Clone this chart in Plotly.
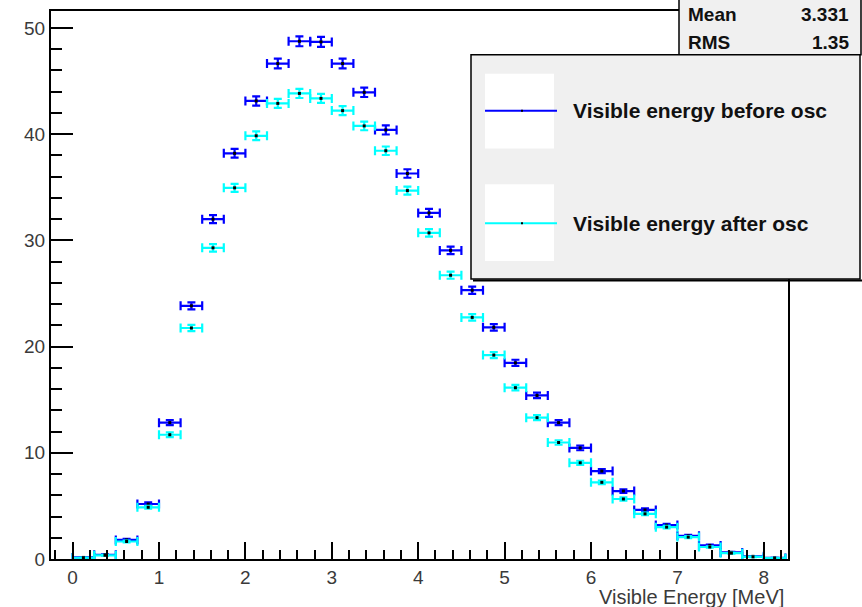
import plotly.graph_objects as go

# Histogram bins (MeV) and contents
bin_centers = [0.125, 0.375, 0.625, 0.875, 1.125, 1.375, 1.625, 1.875, 2.125, 2.375,
               2.625, 2.875, 3.125, 3.375, 3.625, 3.875, 4.125, 4.375, 4.625, 4.875,
               5.125, 5.375, 5.625, 5.875, 6.125, 6.375, 6.625, 6.875, 7.125, 7.375,
               7.625, 7.875, 8.125]
half_width = [0.125] * len(bin_centers)

before_osc = [0.15, 0.40, 1.80, 5.18, 12.84, 23.84, 32.00, 38.20, 43.13, 46.65,
              48.75, 48.69, 46.65, 43.94, 40.40, 36.30, 32.59, 29.06, 25.31, 21.81,
              18.47, 15.40, 12.84, 10.46, 8.28, 6.40, 4.62, 3.19, 2.18, 1.28,
              0.62, 0.25, 0.10]
before_err = [0.03, 0.04, 0.09, 0.15, 0.24, 0.33, 0.38, 0.41, 0.44, 0.46,
              0.47, 0.47, 0.46, 0.44, 0.43, 0.40, 0.38, 0.36, 0.34, 0.31,
              0.29, 0.26, 0.24, 0.22, 0.19, 0.17, 0.14, 0.12, 0.10, 0.08,
              0.05, 0.03, 0.02]

after_osc = [0.12, 0.35, 1.65, 4.87, 11.70, 21.75, 29.30, 34.95, 39.85, 42.90,
             43.84, 43.37, 42.22, 40.78, 38.44, 34.69, 30.71, 26.72, 22.75, 19.20,
             16.13, 13.31, 10.97, 9.06, 7.22, 5.65, 4.25, 3.00, 2.06, 1.13,
             0.55, 0.20, 0.08]
after_err = [0.02, 0.04, 0.08, 0.14, 0.22, 0.30, 0.35, 0.38, 0.41, 0.42,
             0.43, 0.43, 0.42, 0.41, 0.40, 0.38, 0.36, 0.33, 0.31, 0.28,
             0.26, 0.24, 0.21, 0.19, 0.17, 0.15, 0.13, 0.11, 0.09, 0.07,
             0.05, 0.03, 0.02]

series_names = ["Visible energy before osc", "Visible energy after osc"]
series_colors = ["#0000ff", "#00ffff"]
stats = [("Mean", "3.331"), ("RMS", "1.35")]
x_title = "Visible Energy [MeV]"

W, H = 862, 607
L, R, T, B = 51, 74, 9, 48
PW, PH = W - L - R, H - T - B
FONT = "Liberation Sans, Arial, Helvetica, sans-serif"


def px(x):
    return (x - L) / PW


def py(y):
    return (T + PH - y) / PH


fig = go.Figure()
for vals, errs, color, name in [(before_osc, before_err, series_colors[0], series_names[0]),
                                (after_osc, after_err, series_colors[1], series_names[1])]:
    fig.add_trace(go.Scatter(
        x=bin_centers, y=vals, mode="markers", name=name, showlegend=False,
        marker=dict(color="black", size=3, symbol="square"),
        error_x=dict(type="data", array=half_width, color=color, thickness=2.2, width=4.5),
        error_y=dict(type="data", array=errs, color=color, thickness=2.2, width=4),
    ))

axis_common = dict(showline=True, mirror=True, linecolor="black", linewidth=2,
                   showgrid=False, zeroline=False, ticks="inside", tickcolor="black",
                   tickwidth=1.5, tickfont=dict(family=FONT, size=19, color="#3a3a3a"))

fig.update_xaxes(range=[-0.25, 8.28], tick0=0, dtick=1, ticklen=17,
                 minor=dict(ticks="inside", tick0=0, dtick=0.2, ticklen=9,
                            tickcolor="black", tickwidth=1.5),
                 **axis_common)
fig.update_yaxes(range=[0, 51.6], tick0=0, dtick=10, ticklen=22,
                 minor=dict(ticks="inside", tick0=0, dtick=2, ticklen=11,
                            tickcolor="black", tickwidth=1.5),
                 **axis_common)

shapes = []
annotations = []

# Statistics box (top right)
shapes.append(dict(type="rect", xref="paper", yref="paper",
                   x0=px(679), x1=px(861), y0=py(53), y1=py(-5),
                   fillcolor="#f0f0f0", line=dict(color="black", width=1.5)))
for i, (label, value) in enumerate(stats):
    yc = py(13 + 27.5 * i)
    annotations.append(dict(xref="paper", yref="paper", x=px(686), y=yc, text=f"<b>{label}</b>",
                            showarrow=False, xanchor="left", yanchor="middle",
                            font=dict(family=FONT, size=19, color="#111")))
    annotations.append(dict(xref="paper", yref="paper", x=px(851), y=yc, text=f"<b>{value}</b>",
                            showarrow=False, xanchor="right", yanchor="middle",
                            font=dict(family=FONT, size=19, color="#111")))

# Legend box with shadow
shapes.append(dict(type="rect", xref="paper", yref="paper",
                   x0=px(471), x1=px(860), y0=py(278), y1=py(53),
                   fillcolor="#f0f0f0", line=dict(color="black", width=1.5)))
shapes.append(dict(type="line", xref="paper", yref="paper",
                   x0=px(473), x1=px(862), y0=py(279.5), y1=py(279.5),
                   line=dict(color="black", width=2)))
for i, (name, color) in enumerate(zip(series_names, series_colors)):
    top, bottom = [(72, 147), (183, 260)][i]
    ymid = [109, 222][i]
    shapes.append(dict(type="rect", xref="paper", yref="paper",
                       x0=px(485), x1=px(554), y0=py(bottom), y1=py(top),
                       fillcolor="white", line=dict(width=0)))
    shapes.append(dict(type="line", xref="paper", yref="paper",
                       x0=px(485), x1=px(557), y0=py(ymid), y1=py(ymid),
                       line=dict(color=color, width=2)))
    shapes.append(dict(type="rect", xref="paper", yref="paper",
                       x0=px(521), x1=px(523), y0=py(ymid + 1), y1=py(ymid - 1),
                       fillcolor="black", line=dict(width=0)))
    annotations.append(dict(xref="paper", yref="paper", x=px(571), y=py(ymid), text=f"<b>{name}</b>",
                            showarrow=False, xanchor="left", yanchor="middle",
                            font=dict(family=FONT, size=21, color="#111")))

# Axis title, right-aligned under the x axis
annotations.append(dict(xref="paper", yref="paper", x=px(786), y=py(597.5), text=x_title,
                        showarrow=False, xanchor="right", yanchor="middle",
                        font=dict(family=FONT, size=20, color="#3a3a3a")))

fig.update_layout(width=W, height=H, margin=dict(l=L, r=R, t=T, b=B),
                  paper_bgcolor="white", plot_bgcolor="white",
                  shapes=shapes, annotations=annotations, showlegend=False)

fig.write_html("out.html")
